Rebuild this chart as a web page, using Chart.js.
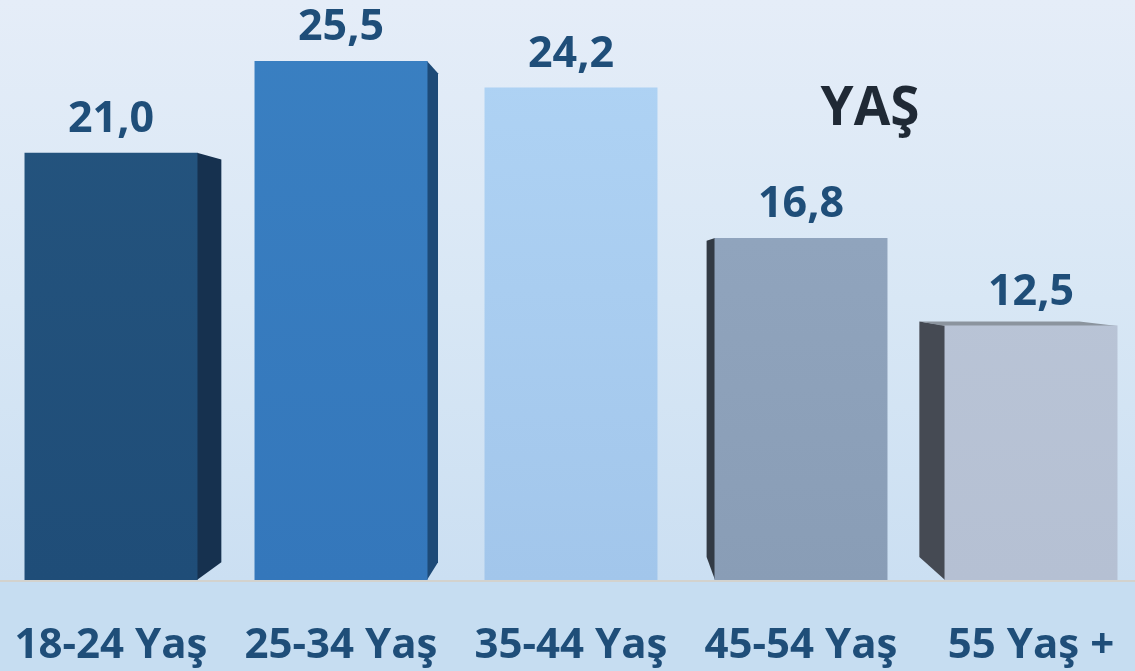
<!DOCTYPE html>
<html lang="tr">
<head>
<meta charset="utf-8">
<script src="https://cdn.jsdelivr.net/npm/chart.js@4"></script>
<style>
  html, body { margin: 0; padding: 0; width: 1135px; height: 671px; overflow: hidden; }
  body { background: linear-gradient(to bottom, #e5edf8 0px, #d8e7f5 300px, #cbdff2 580px, #c6ddf1 581px, #c6ddf1 671px); }
  #wrap { position: absolute; left: -4px; top: 0; width: 1150px; height: 671px; }
</style>
</head>
<body>
<div id="wrap"><canvas id="chart"></canvas></div>
<script>
const categories = ["18-24 Yaş", "25-34 Yaş", "35-44 Yaş", "45-54 Yaş", "55 Yaş +"];
const values = [21.0, 25.5, 24.2, 16.8, 12.5];
const chartTitle = "YAŞ";

const frontTop = ["#25557f", "#3a80c2", "#b0d4f5", "#95a9c2", "#bdc8d9"];
const frontBottom = ["#1f4d78", "#3477bb", "#a2c6eb", "#899db6", "#b5c0d3"];
const sideColors = ["#16314f", "#1d4a77", "#6d9bc6", "#323a44", "#454a53"];
const topFaceColor = "#8b949e";
const labelColor = "#1f4e79";

function frontColor(ctx) {
  const chart = ctx.chart;
  const area = chart.chartArea;
  if (!area) return frontTop[ctx.dataIndex];
  const g = chart.ctx.createLinearGradient(0, area.top, 0, area.bottom);
  g.addColorStop(0, frontTop[ctx.dataIndex]);
  g.addColorStop(1, frontBottom[ctx.dataIndex]);
  return g;
}

// fake 3D: side and top faces pulled toward a vanishing point
const depthPlugin = {
  id: "depth",
  beforeDatasetsDraw(chart) {
    const c = chart.ctx;
    const area = chart.chartArea;
    const vx = area.left + (area.right - area.left) * 0.533;
    const vy = area.top + 272;
    chart.getDatasetMeta(0).data.forEach((bar, i) => {
      const half = bar.width / 2;
      const left = bar.x - half, right = bar.x + half;
      const top = bar.y, bottom = bar.base;
      let edge = null, k;
      if (right < vx) { edge = right; k = 0.058; }
      else if (left > vx) { edge = left; k = 0.075; }
      if (edge !== null) {
        const p = (x, y) => [x + (vx - x) * k, y + (vy - y) * k];
        const t = p(edge, top), b = p(edge, bottom);
        const ov = edge === right ? -0.5 : 0.5;
        c.save();
        c.fillStyle = sideColors[i];
        c.beginPath();
        c.moveTo(edge + ov, top);
        c.lineTo(t[0], t[1]);
        c.lineTo(b[0], b[1]);
        c.lineTo(edge + ov, bottom);
        c.closePath();
        c.fill();
        if (top > vy) {
          const tl = p(left, top), tr = p(right, top);
          c.fillStyle = topFaceColor;
          c.beginPath();
          c.moveTo(left, top + 0.5);
          c.lineTo(tl[0], tl[1]);
          c.lineTo(tr[0], tr[1]);
          c.lineTo(right, top + 0.5);
          c.closePath();
          c.fill();
        }
        c.restore();
      }
    });
  },
  afterDatasetsDraw(chart) {
    const c = chart.ctx;
    const area = chart.chartArea;
    const xs = chart.scales.x;
    c.save();
    // baseline
    c.strokeStyle = "#d3d2cd";
    c.lineWidth = 2;
    c.beginPath();
    c.moveTo(0, area.bottom + 1);
    c.lineTo(chart.width, area.bottom + 1);
    c.stroke();
    c.fillStyle = labelColor;
    c.textAlign = "center";
    c.textBaseline = "alphabetic";
    // value labels
    c.font = "bold 43px 'Open Sans'";
    chart.getDatasetMeta(0).data.forEach((bar, i) => {
      c.fillText(values[i].toFixed(1).replace(".", ","), bar.x, bar.y - 21);
    });
    // category labels
    c.font = "bold 42px 'Open Sans'";
    categories.forEach((lab, i) => {
      c.fillText(lab, xs.getPixelForValue(i), area.bottom + 78);
    });
    // title
    c.fillStyle = "#1f2935";
    c.font = "bold 53px 'Open Sans'";
    c.fillText(chartTitle, area.left + (area.right - area.left) * 0.76, 125);
    c.restore();
  }
};

new Chart(document.getElementById("chart"), {
  type: "bar",
  data: {
    labels: categories,
    datasets: [{
      data: values,
      backgroundColor: frontColor,
      borderWidth: 0,
      barPercentage: 0.752,
      categoryPercentage: 1
    }]
  },
  options: {
    responsive: true,
    maintainAspectRatio: false,
    animation: false,
    layout: { padding: { top: 0, left: 0, right: 0, bottom: 91 } },
    plugins: { legend: { display: false }, tooltip: { enabled: false }, title: { display: false } },
    scales: {
      y: { display: false, min: 0, max: 28.5 },
      x: {
        grid: { display: false, drawTicks: false },
        border: { display: false },
        ticks: { display: false }
      }
    }
  },
  plugins: [depthPlugin]
});
</script>
</body>
</html>
